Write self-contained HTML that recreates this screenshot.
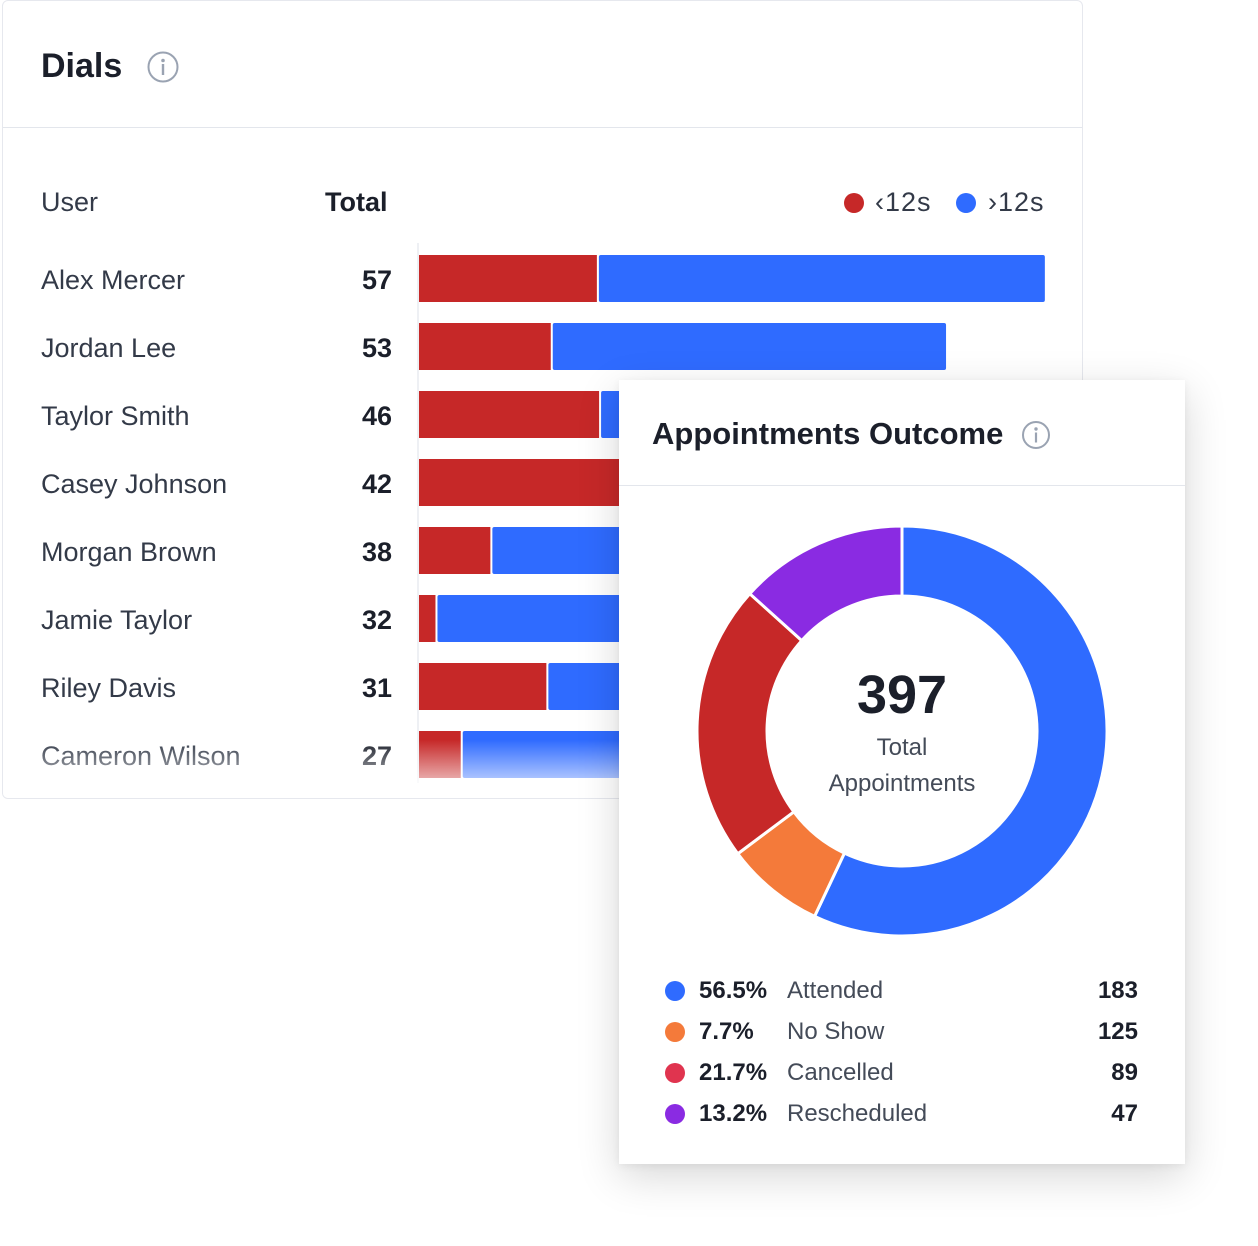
<!DOCTYPE html>
<html><head><meta charset="utf-8"><style>
body{margin:0;width:1258px;height:1246px;background:#fff;font-family:"Liberation Sans",sans-serif;position:relative;overflow:hidden}
.card1{position:absolute;left:2px;top:0;width:1079px;height:797px;border:1px solid #e6e8ee;border-radius:6px;background:#fff;overflow:hidden}
.card2{position:absolute;left:619px;top:380px;width:566px;height:784px;background:#fff;box-shadow:0 12px 40px rgba(0,0,0,.16),0 2px 8px rgba(0,0,0,.06)}
.t{position:absolute;white-space:nowrap}
</style></head><body>
<div class="card1">
 <div class="t" style="left:38px;top:46px;font-size:34px;font-weight:bold;color:#1b1f2a">Dials</div>
 <svg style="position:absolute;left:143px;top:49px" width="34" height="34"><circle cx="17" cy="17" r="14.5" fill="none" stroke="#9aa3b2" stroke-width="2"/><circle cx="17" cy="10.5" r="1.8" fill="#9aa3b2"/><rect x="15.8" y="14" width="2.4" height="11" fill="#9aa3b2"/></svg>
 <div style="position:absolute;left:0;top:126px;width:100%;height:1px;background:#e3e6ec"></div>
 <div class="t" style="left:38px;top:186px;font-size:27px;color:#333a48">User</div>
 <div class="t" style="left:322px;top:186px;font-size:27px;color:#1b1f2a;font-weight:bold">Total</div>
 <span style="position:absolute;left:841px;top:192px;width:20px;height:20px;border-radius:50%;background:#c62828"></span>
 <div class="t" style="left:872px;top:186px;font-size:27px;color:#333a48;letter-spacing:1px">‹12s</div>
 <span style="position:absolute;left:953px;top:192px;width:20px;height:20px;border-radius:50%;background:#2f6bff"></span>
 <div class="t" style="left:985px;top:186px;font-size:27px;color:#333a48;letter-spacing:1px">›12s</div>
 <div style="position:absolute;left:414px;top:242px;width:2px;height:540px;background:#eef0f4"></div>
 <svg id="bars" style="position:absolute;left:0;top:0" width="1079" height="797"></svg>
 <div style="position:absolute;left:0;top:700px;width:100%;height:97px;background:linear-gradient(rgba(255,255,255,0),rgba(255,255,255,0) 40%,rgba(255,255,255,.9))"></div>
</div>
<div class="card2">
 <div class="t" style="left:33px;top:36px;font-size:31px;font-weight:bold;color:#1b1f2a">Appointments Outcome</div>
 <svg style="position:absolute;left:402px;top:40px" width="30" height="30"><circle cx="15" cy="15" r="13" fill="none" stroke="#9aa3b2" stroke-width="2"/><circle cx="15" cy="9" r="1.7" fill="#9aa3b2"/><rect x="13.9" y="12.5" width="2.2" height="10" fill="#9aa3b2"/></svg>
 <div style="position:absolute;left:0;top:105px;width:100%;height:1px;background:#e3e6ec"></div>
 <svg id="donut" style="position:absolute;left:0;top:0" width="566" height="784"></svg>
 <div class="t" style="left:0;width:566px;text-align:center;top:284px;font-size:54px;font-weight:bold;color:#1b1f2a">397</div>
 <div class="t" style="left:0;width:566px;text-align:center;top:350px;font-size:24px;line-height:36px;color:#444b58">Total<br>Appointments</div>
 <div id="legend2"></div>
</div>
<script>
const users=["Alex Mercer","Jordan Lee","Taylor Smith","Casey Johnson","Morgan Brown","Jamie Taylor","Riley Davis","Cameron Wilson"];
const totals=[57,53,46,42,38,32,31,27];
const under12=[16.2,12,16.4,20,6.5,1.5,11.6,3.8];
const over12=[40.8,36,30,22,31.5,30.5,19.4,23.2];
const labels=["Attended","No Show","Cancelled","Rescheduled"];
const pcts=[56.5,7.7,21.7,13.2];
const counts=[183,125,89,47];
const colors=["#2f6bff","#f47a3a","#c62828","#8a2be2"];
const dotColors=["#2f6bff","#f47a3a","#e0344f","#8a2be2"];
const NS="http://www.w3.org/2000/svg";
const x0=416,unit=10.98;
const xs=v=>v*unit;
const rowY=i=>254+i*68;
const bars=document.getElementById('bars');
users.forEach((u,i)=>{
 const y=rowY(i);
 const n=document.createElementNS(NS,'text');n.setAttribute('x',38);n.setAttribute('y',y+34);n.setAttribute('font-size','27');n.setAttribute('fill','#333a48');n.textContent=u;
 
 
 bars.appendChild(n);
 const tt=document.createElementNS(NS,'text');tt.setAttribute('x',389);tt.setAttribute('y',y+34);tt.setAttribute('text-anchor','end');tt.setAttribute('font-size','27');tt.setAttribute('font-weight','bold');tt.setAttribute('fill','#1b1f2a');tt.textContent=totals[i];
 
 
 bars.appendChild(tt);
 const r=document.createElementNS(NS,'rect');r.setAttribute('x',x0);r.setAttribute('y',y);r.setAttribute('width',xs(under12[i]));r.setAttribute('height',47);r.setAttribute('fill','#c62828');
 
 
 bars.appendChild(r);
 const b=document.createElementNS(NS,'rect');b.setAttribute('x',x0+xs(under12[i])+2);b.setAttribute('y',y);b.setAttribute('width',Math.max(0,xs(over12[i])-2));b.setAttribute('height',47);b.setAttribute('rx',2);b.setAttribute('fill','#2f6bff');
 
 
 bars.appendChild(b);
});
const d=document.getElementById('donut');
const cx=283,cy=351,R=205,r0=135;
const sum=pcts.reduce((a,b)=>a+b,0);
let a=0;
const pt=(ang,rad)=>[cx+rad*Math.sin(ang),cy-rad*Math.cos(ang)];
pcts.forEach((p,i)=>{
 const a1=a+p/sum*2*Math.PI;
 const [x1,y1]=pt(a,R),[x2,y2]=pt(a1,R),[x3,y3]=pt(a1,r0),[x4,y4]=pt(a,r0);
 const lg=(a1-a)>Math.PI?1:0;
 const path=document.createElementNS(NS,'path');
 path.setAttribute('d',`M${x1},${y1}A${R},${R} 0 ${lg} 1 ${x2},${y2}L${x3},${y3}A${r0},${r0} 0 ${lg} 0 ${x4},${y4}Z`);
 path.setAttribute('fill',colors[i]);path.setAttribute('stroke','#fff');path.setAttribute('stroke-width','3');
 
 
 d.appendChild(path);
 a=a1;
});
const lg2=document.getElementById('legend2');
labels.forEach((l,i)=>{
 const y=611+i*41;
 const row=document.createElement('div');
 
 
 row.style.cssText=`position:absolute;left:0;top:${y-15}px;width:566px;height:30px;font-size:24px;line-height:30px`;
 row.innerHTML=`<span style="position:absolute;left:46px;top:5px;width:20px;height:20px;border-radius:50%;background:${dotColors[i]}"></span><span style="position:absolute;left:80px;font-weight:bold;color:#1b1f2a">${pcts[i]}%</span><span style="position:absolute;left:168px;color:#444b58">${l}</span><span style="position:absolute;right:47px;font-weight:bold;color:#1b1f2a">${counts[i]}</span>`;
 lg2.appendChild(row);
});
</script>
</body></html>
